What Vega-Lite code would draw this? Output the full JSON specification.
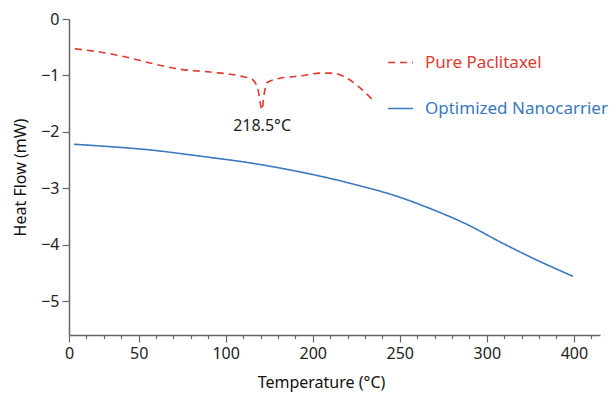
{
  "$schema": "https://vega.github.io/schema/vega-lite/v6.json",
  "width": 531,
  "height": 316,
  "autosize": "none",
  "padding": {"left": 69, "top": 19, "right": 9, "bottom": 58},
  "background": "white",
  "config": {
    "font": "Noto Sans",
    "view": {"stroke": null},
    "axis": {"grid": false, "domainColor": "#666666", "tickColor": "#666666", "labelColor": "#222222", "titleColor": "#111111", "labelFontSize": 16, "titleFontSize": 16, "titleFontWeight": "normal", "domainWidth": 1.5, "tickWidth": 1.2}
  },
  "datasets": {
    "curves": [
      {"t": 3.4, "hf": -0.53, "series": "Pure Paclitaxel"},
      {"t": 17.8, "hf": -0.585, "series": "Pure Paclitaxel"},
      {"t": 32.2, "hf": -0.67, "series": "Pure Paclitaxel"},
      {"t": 46.5, "hf": -0.78, "series": "Pure Paclitaxel"},
      {"t": 63.8, "hf": -0.89, "series": "Pure Paclitaxel"},
      {"t": 81.0, "hf": -0.94, "series": "Pure Paclitaxel"},
      {"t": 98.2, "hf": -1.01, "series": "Pure Paclitaxel"},
      {"t": 105.7, "hf": -1.08, "series": "Pure Paclitaxel"},
      {"t": 108.6, "hf": -1.26, "series": "Pure Paclitaxel"},
      {"t": 110.9, "hf": -1.61, "series": "Pure Paclitaxel"},
      {"t": 112.0, "hf": -1.35, "series": "Pure Paclitaxel"},
      {"t": 113.7, "hf": -1.13, "series": "Pure Paclitaxel"},
      {"t": 121.2, "hf": -1.05, "series": "Pure Paclitaxel"},
      {"t": 132.7, "hf": -1.01, "series": "Pure Paclitaxel"},
      {"t": 144.2, "hf": -0.96, "series": "Pure Paclitaxel"},
      {"t": 151.6, "hf": -0.96, "series": "Pure Paclitaxel"},
      {"t": 158.5, "hf": -1.03, "series": "Pure Paclitaxel"},
      {"t": 167.2, "hf": -1.22, "series": "Pure Paclitaxel"},
      {"t": 174.6, "hf": -1.44, "series": "Pure Paclitaxel"},
      {"t": 2.9, "hf": -2.22, "series": "Optimized Nanocarrier"},
      {"t": 17.8, "hf": -2.25, "series": "Optimized Nanocarrier"},
      {"t": 46.5, "hf": -2.32, "series": "Optimized Nanocarrier"},
      {"t": 75.2, "hf": -2.43, "series": "Optimized Nanocarrier"},
      {"t": 104.0, "hf": -2.55, "series": "Optimized Nanocarrier"},
      {"t": 132.7, "hf": -2.71, "series": "Optimized Nanocarrier"},
      {"t": 161.4, "hf": -2.91, "series": "Optimized Nanocarrier"},
      {"t": 190.1, "hf": -3.16, "series": "Optimized Nanocarrier"},
      {"t": 209.1, "hf": -3.38, "series": "Optimized Nanocarrier"},
      {"t": 228.6, "hf": -3.64, "series": "Optimized Nanocarrier"},
      {"t": 247.6, "hf": -3.95, "series": "Optimized Nanocarrier"},
      {"t": 266.5, "hf": -4.24, "series": "Optimized Nanocarrier"},
      {"t": 289.5, "hf": -4.56, "series": "Optimized Nanocarrier"}
    ],
    "notes": [
      {"t": 110.9, "hf": -1.9, "label": "218.5°C"}
    ]
  },
  "layer": [
    {
      "data": {"name": "curves"},
      "mark": {"type": "line", "strokeWidth": 1.6, "interpolate": "monotone"},
      "encoding": {
        "x": {
          "field": "t", "type": "quantitative",
          "scale": {"domain": [0, 305], "nice": false, "zero": false},
          "axis": {
            "title": "Temperature (°C)",
            "values": [0, 10, 20, 30, 40, 50, 60, 70, 80, 90, 100, 110, 120, 130, 140, 150, 160, 170, 180, 190, 200, 210, 220, 230, 240, 250, 260, 270, 280, 290, 300],
            "tickCount": 100,
            "labelExpr": "datum.value == 0 ? '0' : datum.value == 40 ? '50' : datum.value == 90 ? '100' : datum.value == 140 ? '200' : datum.value == 190 ? '250' : datum.value == 240 ? '300' : datum.value == 290 ? '400' : ''",
            "tickSize": {"condition": {"test": "indexof([0, 40, 90, 140, 190, 240, 290], datum.value) >= 0", "value": 7}, "value": 3.5},
            "labelPadding": 3,
            "labelFlush": false,
            "labelOverlap": false,
            "titlePadding": 13,
            "titleX": 252
          }
        },
        "y": {
          "field": "hf", "type": "quantitative",
          "scale": {"domain": [-5.6, 0], "nice": false, "zero": false},
          "axis": {"title": "Heat Flow (mW)", "values": [0, -1, -2, -3, -4, -5], "format": "d", "tickSize": 7, "labelPadding": 3, "titlePadding": 12}
        },
        "color": {
          "field": "series", "type": "nominal",
          "scale": {"domain": ["Pure Paclitaxel", "Optimized Nanocarrier"], "range": ["#e03a30", "#3a78c0"]},
          "legend": {
            "title": null,
            "orient": "none",
            "legendX": 318,
            "legendY": 30,
            "padding": 0,
            "symbolType": "stroke",
            "symbolSize": 625,
            "symbolStrokeWidth": 1.6,
            "labelFontSize": 17,
            "labelLimit": 0,
            "labelOffset": 11,
            "rowPadding": 24,
            "encode": {"labels": {"update": {"fill": {"scale": "color", "field": "value"}}}}
          }
        },
        "strokeDash": {
          "field": "series", "type": "nominal",
          "scale": {"domain": ["Pure Paclitaxel", "Optimized Nanocarrier"], "range": [[7, 5], [1, 0]]},
          "legend": {
            "title": null,
            "orient": "none",
            "legendX": 318,
            "legendY": 30,
            "padding": 0,
            "symbolType": "stroke",
            "symbolSize": 625,
            "symbolStrokeWidth": 1.6,
            "labelFontSize": 17,
            "labelLimit": 0,
            "labelOffset": 11,
            "rowPadding": 24,
            "encode": {"labels": {"update": {"fill": {"scale": "color", "field": "value"}}}}
          }
        }
      }
    },
    {
      "data": {"name": "notes"},
      "mark": {"type": "text", "fontSize": 16, "color": "#222222", "align": "center", "baseline": "middle"},
      "encoding": {
        "x": {"field": "t", "type": "quantitative"},
        "y": {"field": "hf", "type": "quantitative"},
        "text": {"field": "label"}
      }
    }
  ]
}
